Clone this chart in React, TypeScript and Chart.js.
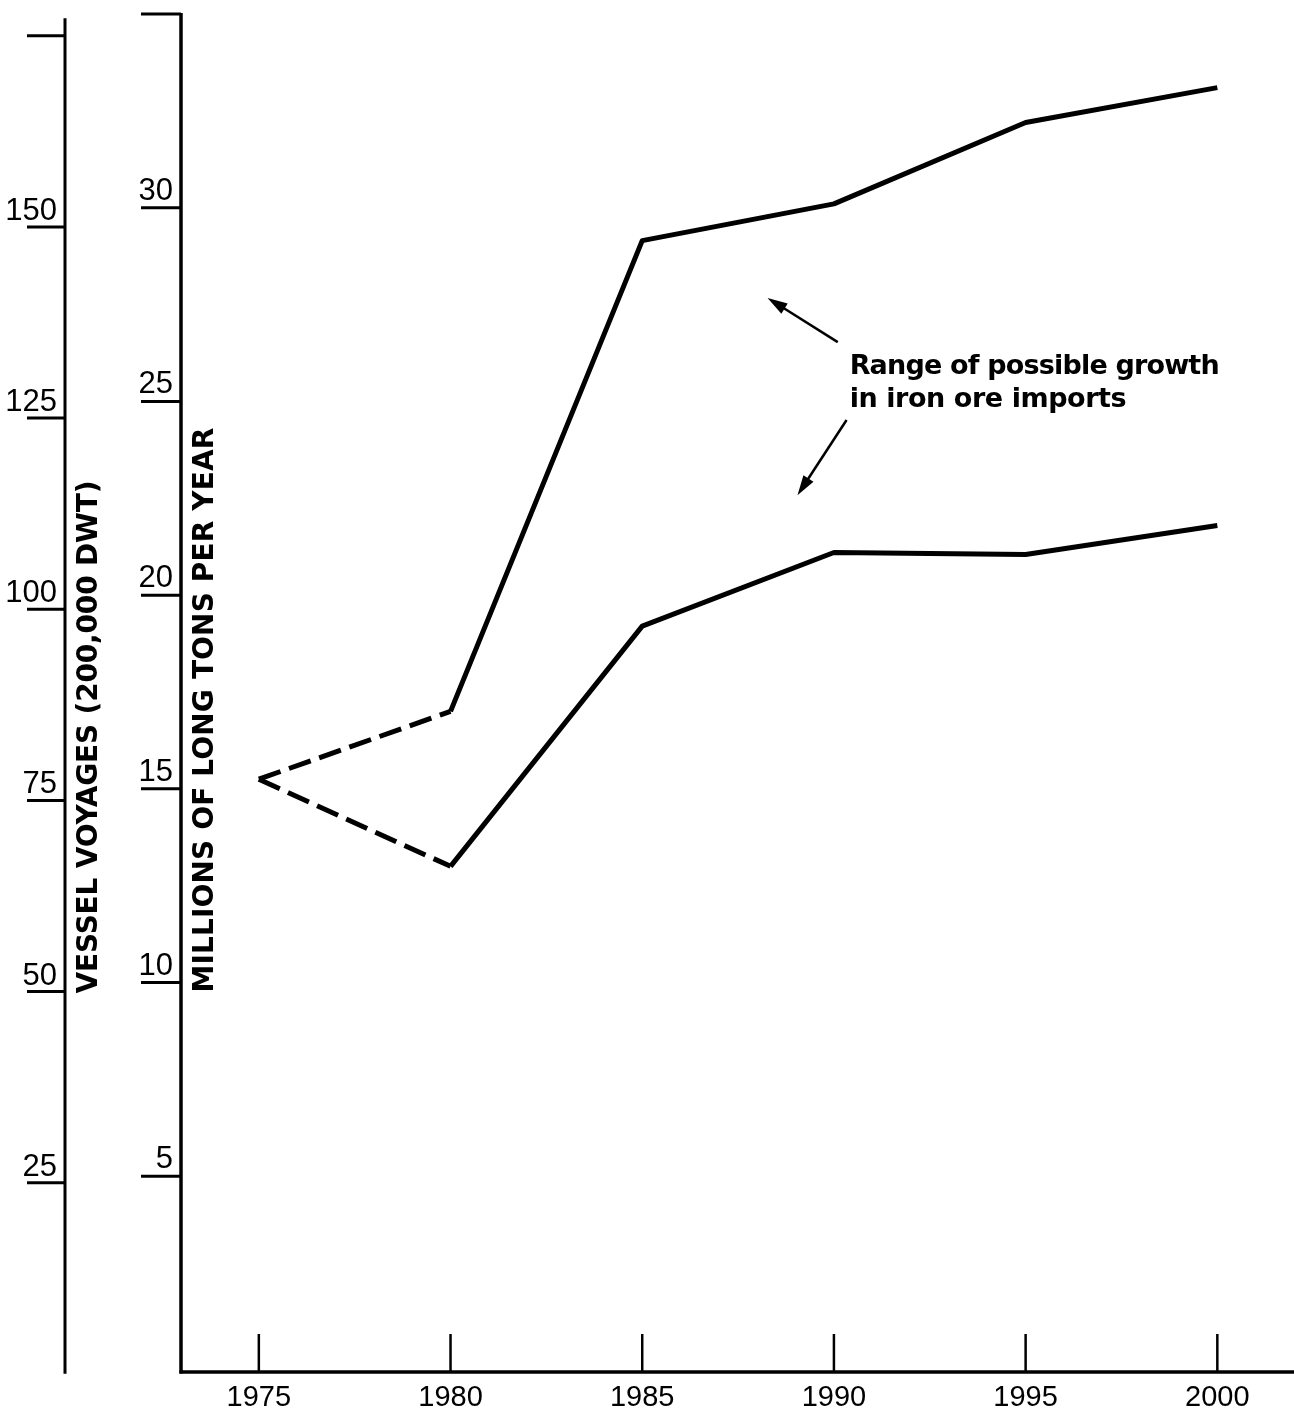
import React, { useEffect, useRef } from "react";
import { Chart, registerables } from "chart.js";

Chart.register(...registerables);

// ---- data ----
const years = [1975, 1980, 1985, 1990, 1995, 2000];
const upperTons = [15.25, 17.0, 29.15, 30.1, 32.2, 33.1];
const lowerTons = [15.25, 13.0, 19.2, 21.1, 21.05, 21.8];

const tonsTicks = [5, 10, 15, 20, 25, 30, 35];
const tonsTickLabels = ["5", "10", "15", "20", "25", "30", ""];
const voyageTicks = [25, 50, 75, 100, 125, 150, 175];
const voyageTickLabels = ["25", "50", "75", "100", "125", "150", ""];
const yearTickLabels = ["1975", "1980", "1985", "1990", "1995", "2000"];

const voyagesTitle = "VESSEL VOYAGES (200,000 DWT)";
const tonsTitle = "MILLIONS OF LONG TONS PER YEAR";
const noteLines = ["Range of possible growth", "in iron ore imports"];
// annotation anchor points in data units [year, tons]
const noteTextPos = [1990.41, 25.71];
const noteLine2Pos = [1990.41, 24.86];
const arrowUp = [[1990.1, 26.53], [1988.27, 27.67]];
const arrowDown = [[1990.33, 24.52], [1989.05, 22.58]];

function fitText(ctx: CanvasRenderingContext2D, text: string, x: number, y: number, width: number) {
  (ctx as any).letterSpacing = "0px";
  const w = ctx.measureText(text).width;
  const ls = (width - w) / Math.max(1, text.length - 1);
  (ctx as any).letterSpacing = ls + "px";
  ctx.fillText(text, x, y);
  (ctx as any).letterSpacing = "0px";
}

function arrow(ctx: CanvasRenderingContext2D, x0: number, y0: number, x1: number, y1: number) {
  const ang = Math.atan2(y1 - y0, x1 - x0);
  const len = 20, hw = 6;
  ctx.beginPath();
  ctx.moveTo(x0, y0);
  ctx.lineTo(x1 - Math.cos(ang) * len * 0.8, y1 - Math.sin(ang) * len * 0.8);
  ctx.lineWidth = 2.5;
  ctx.stroke();
  ctx.beginPath();
  ctx.moveTo(x1, y1);
  ctx.lineTo(x1 - Math.cos(ang) * len + Math.sin(ang) * hw, y1 - Math.sin(ang) * len - Math.cos(ang) * hw);
  ctx.lineTo(x1 - Math.cos(ang) * len - Math.sin(ang) * hw, y1 - Math.sin(ang) * len + Math.cos(ang) * hw);
  ctx.closePath();
  ctx.fill();
}

const axesPlugin = {
  id: "handAxes",
  afterDraw(chart: any) {
    const { ctx, chartArea, scales } = chart;
    const xs = scales.x, ys = scales.y, y2 = scales.y2;
    ctx.save();
    ctx.strokeStyle = "#000";
    ctx.fillStyle = "#000";
    ctx.lineCap = "butt";

    const innerX = chartArea.left;
    const baseY = chartArea.bottom + 2;

    // inner (tons) axis
    ctx.lineWidth = 3.5;
    ctx.beginPath();
    ctx.moveTo(innerX, ys.getPixelForValue(35) - 1);
    ctx.lineTo(innerX, baseY + 1.5);
    ctx.stroke();
    // x axis
    ctx.beginPath();
    ctx.moveTo(innerX - 1.5, baseY);
    ctx.lineTo(chartArea.right, baseY);
    ctx.stroke();

    ctx.font = '31px "Liberation Sans"';
    ctx.textAlign = "right";
    ctx.textBaseline = "alphabetic";
    tonsTicks.forEach((v, i) => {
      const py = ys.getPixelForValue(v);
      ctx.lineWidth = 3;
      ctx.beginPath();
      ctx.moveTo(innerX - 40, py);
      ctx.lineTo(innerX, py);
      ctx.stroke();
      if (tonsTickLabels[i]) ctx.fillText(tonsTickLabels[i], innerX - 8, py - 8);
    });

    // outer (voyages) axis
    const outerX = innerX - 116;
    ctx.lineWidth = 3;
    ctx.beginPath();
    ctx.moveTo(outerX, y2.getPixelForValue(177.3));
    ctx.lineTo(outerX, y2.getPixelForValue(0));
    ctx.stroke();
    voyageTicks.forEach((v, i) => {
      const py = y2.getPixelForValue(v);
      ctx.lineWidth = 3;
      ctx.beginPath();
      ctx.moveTo(outerX - 38, py);
      ctx.lineTo(outerX, py);
      ctx.stroke();
      if (voyageTickLabels[i]) ctx.fillText(voyageTickLabels[i], outerX - 8, py - 7);
    });

    // x ticks
    ctx.font = '29px "Liberation Sans"';
    ctx.textAlign = "center";
    years.forEach((yr, i) => {
      const px = xs.getPixelForValue(yr);
      ctx.lineWidth = 2.5;
      ctx.beginPath();
      ctx.moveTo(px, baseY - 38);
      ctx.lineTo(px, baseY);
      ctx.stroke();
      ctx.fillText(yearTickLabels[i], px, baseY + 34);
    });

    // axis titles (rotated)
    ctx.font = 'bold 28px "DejaVu Sans"';
    ctx.textAlign = "left";
    ctx.textBaseline = "alphabetic";
    ctx.save();
    ctx.translate(outerX + 32, y2.getPixelForValue(50) + 2);
    ctx.rotate(-Math.PI / 2);
    fitText(ctx, voyagesTitle, 0, 0, 513);
    ctx.restore();

    ctx.save();
    ctx.translate(innerX + 32, ys.getPixelForValue(10) + 10);
    ctx.rotate(-Math.PI / 2);
    fitText(ctx, tonsTitle, 0, 0, 565);
    ctx.restore();

    // annotation
    ctx.font = 'bold 27px "DejaVu Sans"';
    fitText(ctx, noteLines[0], xs.getPixelForValue(noteTextPos[0]), ys.getPixelForValue(noteTextPos[1]), 370);
    fitText(ctx, noteLines[1], xs.getPixelForValue(noteLine2Pos[0]), ys.getPixelForValue(noteLine2Pos[1]), 277);

    arrow(ctx, xs.getPixelForValue(arrowUp[0][0]), ys.getPixelForValue(arrowUp[0][1]),
      xs.getPixelForValue(arrowUp[1][0]), ys.getPixelForValue(arrowUp[1][1]));
    arrow(ctx, xs.getPixelForValue(arrowDown[0][0]), ys.getPixelForValue(arrowDown[0][1]),
      xs.getPixelForValue(arrowDown[1][0]), ys.getPixelForValue(arrowDown[1][1]));

    ctx.restore();
  },
};

export default function App() {
  const ref = useRef<HTMLCanvasElement | null>(null);
  useEffect(() => {
    document.body.style.margin = "0";
    const canvas = ref.current!;
    const dashFirst = (c: any) => (c.p0DataIndex === 0 ? [23, 9] : undefined);
    const chart = new Chart(canvas, {
      type: "line",
      data: {
        datasets: [
          {
            label: "Upper",
            data: years.map((y, i) => ({ x: y, y: upperTons[i] })),
            borderColor: "#000",
            borderWidth: 5,
            borderJoinStyle: "round",
            pointRadius: 0,
            tension: 0,
            fill: false,
            segment: { borderDash: dashFirst },
          },
          {
            label: "Lower",
            data: years.map((y, i) => ({ x: y, y: lowerTons[i] })),
            borderColor: "#000",
            borderWidth: 5,
            borderJoinStyle: "round",
            pointRadius: 0,
            tension: 0,
            fill: false,
            segment: { borderDash: dashFirst },
          },
        ],
      },
      options: {
        responsive: false,
        animation: false,
        events: [],
        layout: { padding: { left: 181, right: 0, top: 14, bottom: 40 } },
        plugins: { legend: { display: false }, tooltip: { enabled: false } },
        scales: {
          x: { type: "linear", min: 1972.97, max: 2002, display: false },
          y: { type: "linear", min: 0, max: 35, display: false },
          y2: { type: "linear", min: 0.5, max: 177.85, display: false },
        },
      },
      plugins: [axesPlugin],
    });
    return () => chart.destroy();
  }, []);
  return <canvas ref={ref} width={1294} height={1410} style={{ display: "block" }} />;
}
